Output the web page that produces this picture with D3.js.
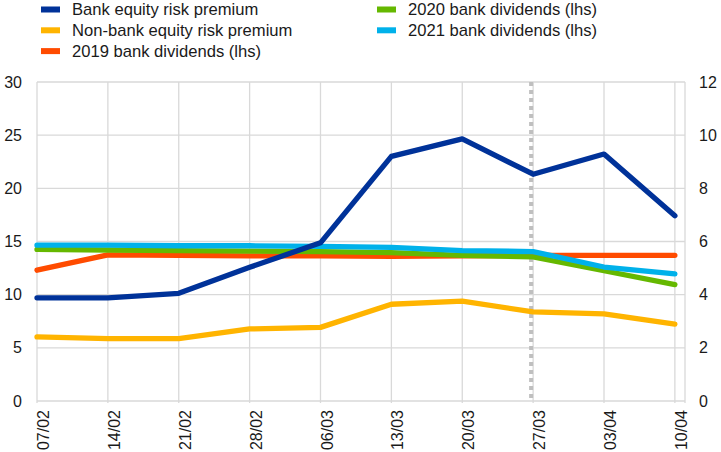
<!DOCTYPE html>
<html>
<head>
<meta charset="utf-8">
<script src="https://cdn.jsdelivr.net/npm/d3@7"></script>
<style>
  body { margin: 0; background: #fff; }
  text { font-family: "Liberation Sans", Arial, sans-serif; fill: #1a1a1a; }
</style>
</head>
<body>
<div id="chart"></div>
<script>
var svgWidth = 721;
var svgHeight = 452;

// week labels on the x axis
var dates = ["07/02", "14/02", "21/02", "28/02", "06/03", "13/03", "20/03", "27/03", "03/04", "10/04"];

// dividends, left axis
var div2019 = [12.3, 13.75, 13.7, 13.65, 13.65, 13.6, 13.65, 13.7, 13.7, 13.7];
var div2020 = [14.25, 14.2, 14.15, 14.1, 14.05, 13.95, 13.7, 13.55, 12.25, 10.95];
var div2021 = [14.65, 14.65, 14.6, 14.6, 14.55, 14.45, 14.15, 14.05, 12.6, 11.95];

// equity risk premia, right axis
var bankErp = [3.88, 3.88, 4.05, 5.03, 5.95, 9.2, 9.86, 8.53, 9.29, 6.97];
var nonBankErp = [2.41, 2.35, 2.35, 2.71, 2.77, 3.64, 3.76, 3.35, 3.28, 2.89];

var leftTicks = [0, 5, 10, 15, 20, 25, 30];
var rightTicks = [0, 2, 4, 6, 8, 10, 12];
var markerDate = "27/03";

var margin = { top: 82, right: 36, bottom: 51, left: 37 };
var width = svgWidth - margin.left - margin.right;
var height = svgHeight - margin.top - margin.bottom;

var svg = d3
  .select("#chart")
  .append("svg")
  .attr("width", svgWidth)
  .attr("height", svgHeight);

var chartGroup = svg
  .append("g")
  .attr("transform", `translate(${margin.left}, ${margin.top})`);

// date axis runs one day past the last weekly point
var xScale = d3.scaleLinear()
  .domain([0, dates.length - 1 + 1 / 7])
  .range([0, width]);

var yLeft = d3.scaleLinear().domain([0, 30]).range([height, 0]);
var yRight = d3.scaleLinear().domain([0, 12]).range([height, 0]);

var gridColor = "#d9d9d9";

// horizontal gridlines
chartGroup.append("g")
  .selectAll("line")
  .data(leftTicks)
  .enter()
  .append("line")
  .attr("x1", 0)
  .attr("x2", width)
  .attr("y1", d => yLeft(d))
  .attr("y2", d => yLeft(d))
  .attr("stroke", gridColor)
  .attr("stroke-width", 1.3);

// vertical gridlines at each date plus right border
chartGroup.append("g")
  .selectAll("line")
  .data(d3.range(dates.length).concat([xScale.domain()[1]]))
  .enter()
  .append("line")
  .attr("x1", d => xScale(d))
  .attr("x2", d => xScale(d))
  .attr("y1", 0)
  .attr("y2", height + 2)
  .attr("stroke", gridColor)
  .attr("stroke-width", 1.3);

// left axis labels
var leftAxis = d3.axisLeft(yLeft).tickValues(leftTicks).tickSize(0).tickPadding(15);
chartGroup.append("g")
  .call(leftAxis)
  .call(g => g.select(".domain").remove())
  .selectAll("text")
  .style("font-size", "16px")
  .style("font-family", "Liberation Sans, Arial, sans-serif")
  .attr("fill", "#1a1a1a");

// right axis labels
var rightAxis = d3.axisRight(yRight).tickValues(rightTicks).tickSize(0).tickPadding(14);
chartGroup.append("g")
  .attr("transform", `translate(${width}, 0)`)
  .call(rightAxis)
  .call(g => g.select(".domain").remove())
  .selectAll("text")
  .style("font-size", "16px")
  .style("font-family", "Liberation Sans, Arial, sans-serif")
  .attr("fill", "#1a1a1a");

// rotated date labels
chartGroup.append("g")
  .selectAll("text")
  .data(dates)
  .enter()
  .append("text")
  .attr("transform", (d, i) => `translate(${xScale(i) + 6.5}, ${height + 9}) rotate(-90)`)
  .attr("text-anchor", "end")
  .attr("dy", "0.35em")
  .style("font-size", "16px")
  .text(d => d);

// dotted marker line
var mx = xScale(dates.indexOf(markerDate)) - 2;
chartGroup.append("line")
  .attr("x1", mx)
  .attr("x2", mx)
  .attr("y1", 0)
  .attr("y2", height)
  .attr("stroke", "#bfbfbf")
  .attr("stroke-width", 4)
  .attr("stroke-dasharray", "4,4");

var series = [
  { name: "2019 bank dividends (lhs)", values: div2019, color: "#ff4b00", axis: yLeft },
  { name: "2020 bank dividends (lhs)", values: div2020, color: "#65b800", axis: yLeft },
  { name: "2021 bank dividends (lhs)", values: div2021, color: "#00b1ea", axis: yLeft },
  { name: "Non-bank equity risk premium", values: nonBankErp, color: "#ffb400", axis: yRight },
  { name: "Bank equity risk premium", values: bankErp, color: "#003299", axis: yRight }
];

series.forEach(function(s) {
  var line = d3.line()
    .x((d, i) => xScale(i))
    .y(d => s.axis(d));
  chartGroup.append("path")
    .datum(s.values)
    .attr("d", line)
    .attr("fill", "none")
    .attr("stroke", s.color)
    .attr("stroke-width", 5.3)
    .attr("stroke-linecap", "round")
    .attr("stroke-linejoin", "round");
});

// legend, two columns
var legendItems = [
  { name: "Bank equity risk premium", color: "#003299", col: 0, row: 0 },
  { name: "Non-bank equity risk premium", color: "#ffb400", col: 0, row: 1 },
  { name: "2019 bank dividends (lhs)", color: "#ff4b00", col: 0, row: 2 },
  { name: "2020 bank dividends (lhs)", color: "#65b800", col: 1, row: 0 },
  { name: "2021 bank dividends (lhs)", color: "#00b1ea", col: 1, row: 1 }
];
var legendX = [41, 377];

var legend = svg.append("g")
  .selectAll("g")
  .data(legendItems)
  .enter()
  .append("g")
  .attr("transform", d => `translate(${legendX[d.col]}, ${9.5 + d.row * 20.8})`);

legend.append("rect")
  .attr("x", 0)
  .attr("y", -3)
  .attr("width", 19)
  .attr("height", 6)
  .attr("fill", d => d.color);

legend.append("text")
  .attr("x", 31)
  .attr("dy", "0.35em")
  .style("font-size", "16.6px")
  .text(d => d.name);
</script>
</body>
</html>
